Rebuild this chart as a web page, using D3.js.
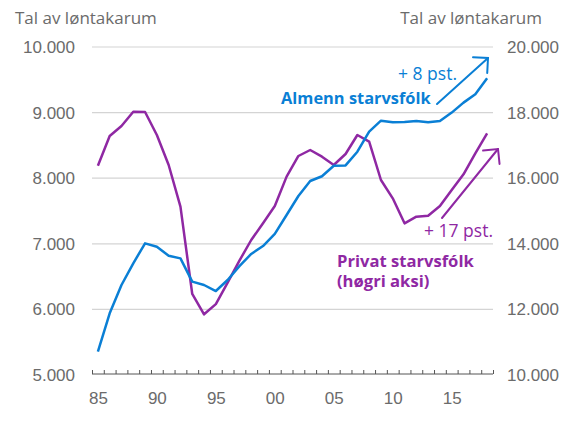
<!DOCTYPE html>
<html>
<head>
<meta charset="utf-8">
<script src="https://cdn.jsdelivr.net/npm/d3@7"></script>
<style>
  body { margin: 0; background: #fff; }
  svg { display: block; font-family: "Open Sans", sans-serif; }
  .axis text { fill: #6b6b6b; font-size: 17px; }
</style>
</head>
<body>
<svg id="chart" width="570" height="437"></svg>
<script>
// years on the x axis
const years = d3.range(1985, 2019);
// Almenn starvsfólk (left axis)
const almenn = [5355, 5940, 6372, 6703, 7007, 6956, 6818, 6778, 6423, 6372,
  6280, 6448, 6660, 6845, 6966, 7150, 7439, 7729, 7957, 8030,
  8190, 8195, 8404, 8710, 8877, 8852, 8857, 8872, 8852, 8872,
  9000, 9152, 9280, 9523];
// Privat starvsfólk (right axis)
const privat = [16381, 17287, 17591, 18028, 18018, 17317, 16402, 15131, 12470, 11850,
  12160, 12815, 13486, 14116, 14624, 15152, 16047, 16677, 16860, 16657,
  16402, 16738, 17317, 17113, 15945, 15386, 14624, 14827, 14857, 15152,
  15640, 16118, 16759, 17368];
const leftTicks = [5000, 6000, 7000, 8000, 9000, 10000];
const rightTicks = [10000, 12000, 14000, 16000, 18000, 20000];
const xLabels = [1985, 1990, 1995, 2000, 2005, 2010, 2015];

const blue = '#0a7fd5';
const purple = '#8f28a3';

const svg = d3.select('#chart');
const cs = { left: 92, right: 493, top: 47, bottom: 375 };

const x = d3.scaleLinear().domain([1984.5, 2018.5]).range([cs.left, cs.right]);
const yL = d3.scaleLinear().domain([5000, 10000]).range([cs.bottom, cs.top]);
const yR = d3.scaleLinear().domain([10000, 20000]).range([cs.bottom, cs.top]);

const fmt = d3.formatLocale({ decimal: ',', thousands: '.', grouping: [3], currency: ['', ''] }).format(',d');

// grid
svg.append('g').selectAll('line')
  .data(leftTicks.slice(1))
  .join('line')
  .attr('x1', cs.left).attr('x2', cs.right)
  .attr('y1', d => yL(d)).attr('y2', d => yL(d))
  .attr('stroke', '#d4d4d4').attr('stroke-width', 1.2);

// y axes
const gl = svg.append('g').attr('class', 'axis')
  .attr('transform', `translate(${cs.left},0)`)
  .call(d3.axisLeft(yL).tickValues(leftTicks).tickFormat(fmt).tickSize(0).tickPadding(17));
gl.select('.domain').remove();
const gr = svg.append('g').attr('class', 'axis')
  .attr('transform', `translate(${cs.right},0)`)
  .call(d3.axisRight(yR).tickValues(rightTicks).tickFormat(fmt).tickSize(0).tickPadding(14));
gr.select('.domain').remove();

// x axis: yearly ticks on band edges, labels every 5 years
const gx = svg.append('g').attr('class', 'axis')
  .attr('transform', `translate(0,${cs.bottom - 1})`)
  .call(d3.axisBottom(x).tickValues(d3.range(1984.5, 2019, 1)).tickSize(-4).tickFormat(''));
gx.selectAll('line').attr('stroke', '#555');
gx.select('.domain').attr('stroke', '#555').attr('d', `M${cs.left},0H${cs.right}`);
const gxl = svg.append('g').attr('class', 'axis')
  .attr('transform', `translate(0,${cs.bottom - 1})`)
  .call(d3.axisBottom(x).tickValues(xLabels).tickSize(0).tickPadding(18)
    .tickFormat(d => String(d).slice(2)));
gxl.select('.domain').remove();

// lines
const lineL = d3.line().x((d, i) => x(years[i])).y(d => yL(d));
const lineR = d3.line().x((d, i) => x(years[i])).y(d => yR(d));
svg.append('path').attr('d', lineR(privat)).attr('fill', 'none')
  .attr('stroke', purple).attr('stroke-width', 2.5).attr('stroke-linejoin', 'round');
svg.append('path').attr('d', lineL(almenn)).attr('fill', 'none')
  .attr('stroke', blue).attr('stroke-width', 2.5).attr('stroke-linejoin', 'round');

// axis titles
svg.append('text').attr('x', 15).attr('y', 24).attr('fill', '#6b6b6b')
  .style('font-size', '17px').text('Tal av løntakarum');
svg.append('text').attr('x', 542).attr('y', 24).attr('fill', '#6b6b6b')
  .attr('text-anchor', 'end').style('font-size', '17px').text('Tal av løntakarum');

// trend arrows
const arrow = (x1, y1, x2, y2, color) => {
  const a = Math.atan2(y2 - y1, x2 - x1);
  const h = 15;
  const g = svg.append('g').attr('stroke', color).attr('stroke-width', 2)
    .attr('fill', 'none').attr('stroke-linecap', 'round');
  g.append('line').attr('x1', x1).attr('y1', y1).attr('x2', x2).attr('y2', y2);
  g.append('path').attr('d',
    `M${x2 - h * Math.cos(a - Math.PI / 4)},${y2 - h * Math.sin(a - Math.PI / 4)}` +
    `L${x2},${y2}L${x2 - h * Math.cos(a + Math.PI / 4)},${y2 - h * Math.sin(a + Math.PI / 4)}`);
};
arrow(437, 104, 488, 58, blue);
arrow(442, 218, 498, 149, purple);

// series labels
svg.append('text').attr('x', 398).attr('y', 80).attr('fill', blue)
  .style('font-size', '17.5px').text('+ 8 pst.');
svg.append('text').attr('x', 281).attr('y', 104).attr('fill', blue)
  .style('font-size', '16.4px').style('font-weight', 'bold').text('Almenn starvsfólk');
svg.append('text').attr('x', 424).attr('y', 237).attr('fill', purple)
  .style('font-size', '17.5px').text('+ 17 pst.');
const pl = svg.append('text').attr('x', 337).attr('y', 267).attr('fill', purple)
  .style('font-size', '16.6px').style('font-weight', 'bold');
pl.append('tspan').attr('x', 337).text('Privat starvsfólk');
pl.append('tspan').attr('x', 337).attr('dy', 20).text('(høgri aksi)');
</script>
</body>
</html>
